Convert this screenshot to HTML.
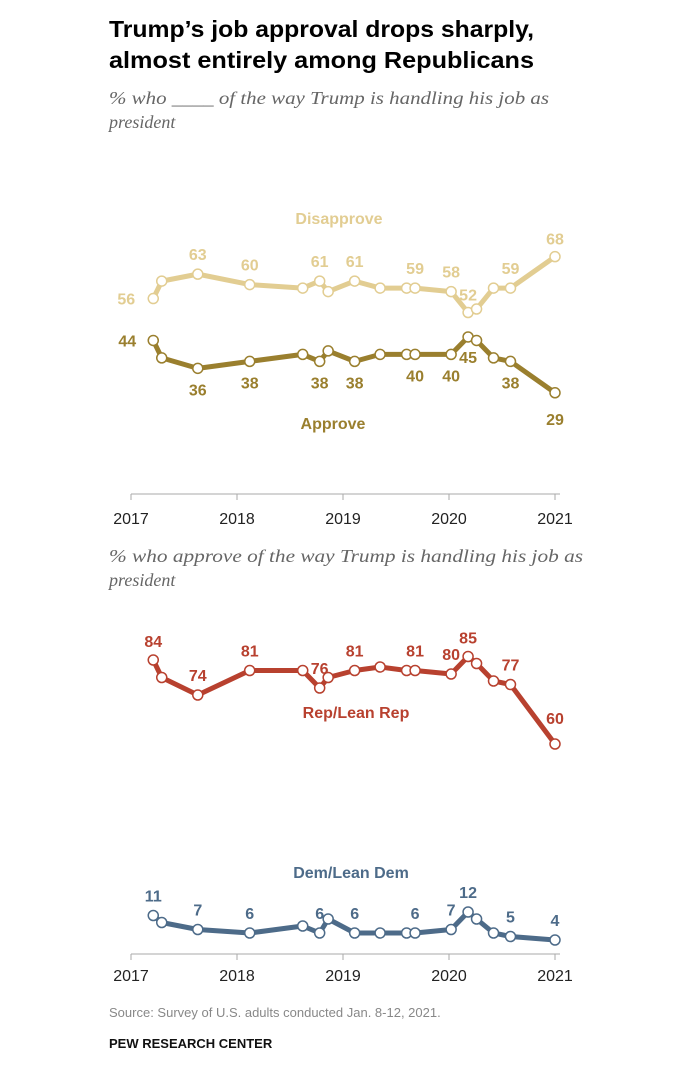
<!DOCTYPE html>
<html><head><meta charset="utf-8"><style>
html,body{margin:0;padding:0;background:#fff;width:689px;height:1072px;overflow:hidden}
svg{display:block}
</style></head><body>
<svg id="chart" width="689" height="1072" xmlns="http://www.w3.org/2000/svg" font-family="Liberation Sans, sans-serif">
<text x="109" y="37" font-size="23" font-weight="bold" fill="#000" textLength="425" lengthAdjust="spacingAndGlyphs">Trump’s job approval drops sharply,</text>
<text x="109" y="68" font-size="23" font-weight="bold" fill="#000" textLength="425" lengthAdjust="spacingAndGlyphs">almost entirely among Republicans</text>
<text x="109" y="104" font-size="18" font-style="italic" fill="#666" font-family="Liberation Serif, serif" textLength="440" lengthAdjust="spacingAndGlyphs">% who ____ of the way Trump is handling his job as</text>
<text x="109" y="128" font-size="18" font-style="italic" fill="#666" font-family="Liberation Serif, serif">president</text>
<text x="109" y="562" font-size="18" font-style="italic" fill="#666" font-family="Liberation Serif, serif" textLength="474" lengthAdjust="spacingAndGlyphs">% who approve of the way Trump is handling his job as</text>
<text x="109" y="586" font-size="18" font-style="italic" fill="#666" font-family="Liberation Serif, serif">president</text>
<text x="109" y="1017" font-size="13" fill="#888">Source: Survey of U.S. adults conducted Jan. 8-12, 2021.</text>
<text x="109" y="1048" font-size="13" font-weight="bold" fill="#111">PEW RESEARCH CENTER</text>
</svg>
<script>
const dates=[2017.21,2017.29,2017.63,2018.12,2018.62,2018.78,2018.86,2019.11,2019.35,2019.60,2019.68,2020.02,2020.18,2020.26,2020.42,2020.58,2021.0];
const disapprove=[56,61,63,60,59,61,58,61,59,59,59,58,52,53,59,59,68];
const approve=[44,39,36,38,40,38,41,38,40,40,40,40,45,44,39,38,29];
const rep=[84,79,74,81,81,76,79,81,82,81,81,80,85,83,78,77,60];
const dem=[11,9,7,6,8,6,10,6,6,6,6,7,12,10,6,5,4];
const yearTicks=[2017,2018,2019,2020,2021];
const svg=document.getElementById('chart');
const NS='http://www.w3.org/2000/svg';
function xs(d){return 131+(d-2017)*106;}
function yTop(v){return 494-v*3.49;}
function yBot(v){return 954-v*3.5;}
function mk(tag,attrs){const e=document.createElementNS(NS,tag);for(const k in attrs)e.setAttribute(k,attrs[k]);svg.appendChild(e);return e;}
function axis(y,name,labelY){
  const l=mk('line',{x1:131,x2:560,y1:y,y2:y,stroke:'#aaa','stroke-width':1});
  
  
  yearTicks.forEach(t=>{
    const tk=mk('line',{x1:xs(t),x2:xs(t),y1:y,y2:y+6,stroke:'#aaa'});
    
    
    const tx=mk('text',{x:xs(t),y:labelY,'font-size':16,fill:'#222','text-anchor':'middle'});
    tx.textContent=t;
    
    
  });
}
function series(vals,ys,color,name,labels){
  const pts=vals.map((v,i)=>xs(dates[i])+','+ys(v)).join(' ');
  const pl=mk('polyline',{points:pts,fill:'none',stroke:color,'stroke-width':5,'stroke-linejoin':'round'});
  
  
  vals.forEach((v,i)=>{
    const c=mk('circle',{cx:xs(dates[i]),cy:ys(v),r:5,fill:'#fff',stroke:color,'stroke-width':1.5});
    
    
  });
  labels.forEach(([i,dx,dy])=>{
    const t=mk('text',{x:xs(dates[i])+dx,y:ys(vals[i])+dy,'font-size':16,'font-weight':'bold',fill:color,'text-anchor':'middle'});
    t.textContent=vals[i];
    
    
  });
}
function seriesName(txt,x,y,color,name){
  const t=mk('text',{x:x,y:y,'font-size':16,'font-weight':'bold',fill:color,'text-anchor':'middle'});
  t.textContent=txt;
  
  
}
axis(494,'top-x-axis',524);
axis(954,'bottom-x-axis',981);
const cD='#e2cd92',cA='#9a7f2e',cR='#b8412f',cDem='#4d6b89';
series(disapprove,yTop,cD,'disapprove',[[0,-27,6],[2,0,-14],[3,0,-14],[5,0,-14],[7,0,-14],[10,0,-14],[11,0,-14],[12,0,-12],[15,0,-14],[16,0,-12]]);
series(approve,yTop,cA,'approve',[[0,-26,6],[2,0,27],[3,0,27],[5,0,27],[7,0,27],[10,0,27],[11,0,27],[12,0,26],[15,0,27],[16,0,32]]);
series(rep,yBot,cR,'rep',[[0,0,-13],[2,0,-14],[3,0,-14],[5,0,-14],[7,0,-14],[10,0,-14],[11,0,-14],[12,0,-13],[15,0,-14],[16,0,-20]]);
series(dem,yBot,cDem,'dem',[[0,0,-14],[2,0,-14],[3,0,-14],[5,0,-14],[7,0,-14],[10,0,-14],[11,0,-14],[12,0,-14],[15,0,-14],[16,0,-14]]);
seriesName('Disapprove',339,224,cD,'disapprove-series-label');
seriesName('Approve',333,429,cA,'approve-series-label');
seriesName('Rep/Lean Rep',356,718,cR,'rep-series-label');
seriesName('Dem/Lean Dem',351,878,cDem,'dem-series-label');
</script>
</body></html>
